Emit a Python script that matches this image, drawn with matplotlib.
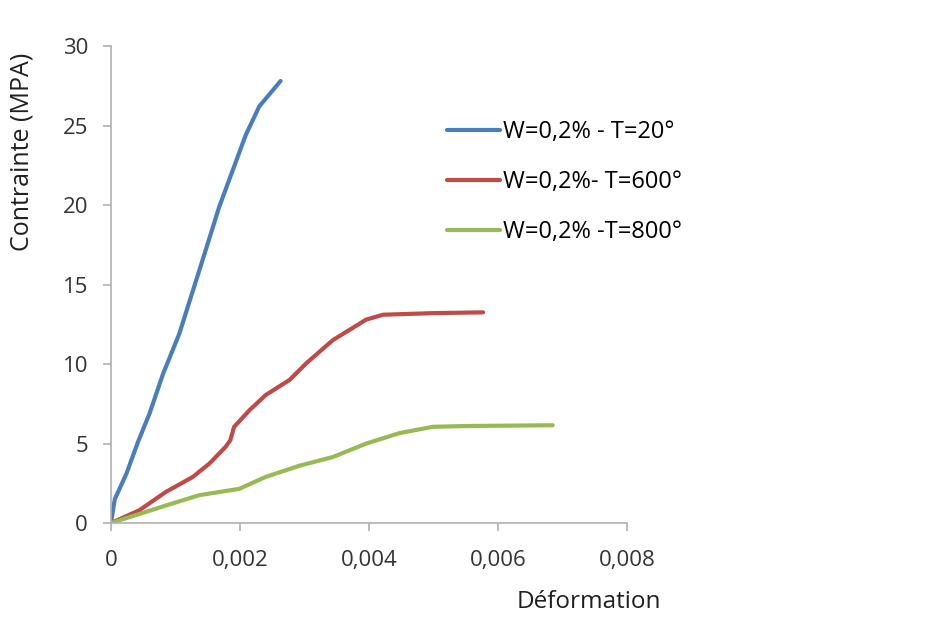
import matplotlib
matplotlib.use("Agg")
import matplotlib.pyplot as plt
from matplotlib.ticker import FuncFormatter

# courbes contrainte / deformation
x_20 = [0, 0.00006, 0.00024, 0.00042, 0.0006, 0.00081, 0.00106, 0.00127, 0.00148,
        0.00168, 0.00189, 0.00209, 0.0023, 0.00263]
y_20 = [0, 1.5, 3.1, 5.1, 6.9, 9.4, 11.9, 14.6, 17.3, 19.9, 22.2, 24.4, 26.2, 27.8]

x_600 = [0, 0.00044, 0.00085, 0.00127, 0.00153, 0.00178, 0.00185, 0.00191, 0.00215,
         0.0024, 0.00277, 0.00303, 0.00344, 0.00396, 0.00422, 0.00499, 0.00577]
y_600 = [0, 0.8, 1.95, 2.9, 3.75, 4.8, 5.2, 6.05, 7.1, 8.05, 9.0, 10.05, 11.5, 12.8,
         13.1, 13.2, 13.25]

x_800 = [0, 0.00085, 0.00137, 0.00199, 0.0024, 0.00292, 0.00344, 0.00396, 0.00447,
         0.00499, 0.00551, 0.00685]
y_800 = [0, 1.1, 1.75, 2.15, 2.9, 3.6, 4.15, 5.0, 5.65, 6.05, 6.1, 6.15]

labels = ["W=0,2% - T=20°", "W=0,2%- T=600°", "W=0,2% -T=800°"]
colors = ["#4a7ebb", "#be4b48", "#98b954"]

plt.rcParams["font.family"] = ["Open Sans", "DejaVu Sans"]

fig = plt.figure(figsize=(9.48, 6.26), dpi=100)
ax = fig.add_axes([0.117, 0.1645, 0.5443, 0.762])

for xs, ys, lab, c in zip([x_20, x_600, x_800], [y_20, y_600, y_800], labels, colors):
    ax.plot(xs, ys, color=c, lw=3, label=lab, solid_capstyle="round")

ax.set_xlim(0, 0.008)
ax.set_ylim(0, 30)
ax.set_xticks([0, 0.002, 0.004, 0.006, 0.008])
ax.set_yticks(range(0, 31, 5))
ax.xaxis.set_major_formatter(FuncFormatter(lambda v, p: "0" if v == 0 else f"{v:.3f}".replace(".", ",")))

for s in ["top", "right"]:
    ax.spines[s].set_visible(False)
for s in ["left", "bottom"]:
    ax.spines[s].set_color("#b0b0b0")
    ax.spines[s].set_linewidth(1.2)
ax.tick_params(colors="#b0b0b0", labelcolor="#333333", labelsize=16, length=5.5, width=1.2)
ax.tick_params(axis="y", pad=11)
ax.tick_params(axis="x", pad=14)

ax.set_ylabel("Contrainte (MPA)", fontsize=18, color="#202020")
ax.yaxis.set_label_coords(-0.149, 0.778)
ax.set_xlabel("Déformation", fontsize=17.5, color="#202020")
ax.xaxis.set_label_coords(0.926, -0.14)

ax.legend(loc="center left", bbox_to_anchor=(447 / 948, 1 - 182 / 626), bbox_transform=fig.transFigure,
          frameon=False, fontsize=17, handlelength=2.25, handletextpad=0.13, labelspacing=1.1,
          borderpad=0, borderaxespad=0)

fig.savefig("out.png", dpi=100)
plt.close(fig)
